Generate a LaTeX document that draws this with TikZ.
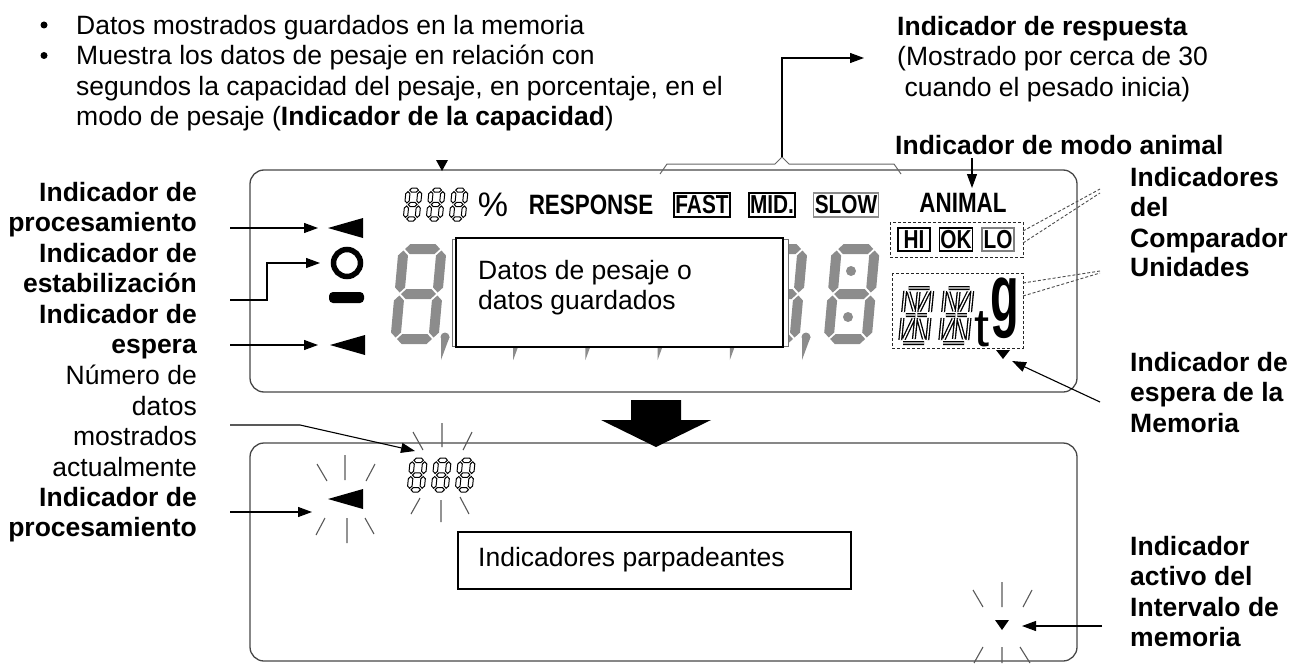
\documentclass[tikz,border=0pt]{standalone}
\usepackage{fontspec}
\usepackage{graphicx}
\setmainfont{Liberation Sans}
\newfontfamily\lcdfont{Liberation Sans}[FakeStretch=0.8]
\usetikzlibrary{arrows.meta}
\definecolor{lcdgray}{RGB}{140,140,140}
\definecolor{panelline}{RGB}{70,70,70}
\newcommand\tf{\fontsize{26.5bp}{30.5bp}\selectfont}
\def\segg{1.5}
\newcommand\hseg[4]{\path[#1] (#2+\segg,#4) -- (#2+\segg+\segh,#4-\segh) -- (#3-\segg-\segh,#4-\segh) -- (#3-\segg,#4) -- (#3-\segg-\segh,#4+\segh) -- (#2+\segg+\segh,#4+\segh) -- cycle;}
\newcommand\vseg[4]{\path[#1] (#2,#3+\segg) -- (#2+\segh,#3+\segg+\segh) -- (#2+\segh,#4-\segg-\segh) -- (#2,#4-\segg) -- (#2-\segh,#4-\segg-\segh) -- (#2-\segh,#3+\segg+\segh) -- cycle;}
% #1 style, #2 x, #3 y bottom, #4 W, #5 H, #6 thickness, #7 slant
\newcommand\eightdigit[7]{%
 \begin{scope}[shift={(#2,#3)},xslant=#7]
 \pgfmathsetmacro\dA{#6/2}\pgfmathsetmacro\dB{#4-#6/2}%
 \pgfmathsetmacro\dC{-#5+#6/2}\pgfmathsetmacro\dD{-#5/2}\pgfmathsetmacro\dE{-#6/2}%
 \pgfmathsetmacro\segh{#6/2}%
 \hseg{#1}{\dA}{\dB}{\dC}\hseg{#1}{\dA}{\dB}{\dD}\hseg{#1}{\dA}{\dB}{\dE}%
 \vseg{#1}{\dA}{\dC}{\dD}\vseg{#1}{\dB}{\dC}{\dD}\vseg{#1}{\dA}{\dD}{\dE}\vseg{#1}{\dB}{\dD}{\dE}%
 \end{scope}}
\newcommand\fourteen[2]{%
 \begin{scope}[shift={(#1,#2)},xslant=0.1]
 \foreach \w/\c in {4/black,1.4/white}{%
  \draw[line width=\w bp, draw=\c] (3,-55)--(24,-55) (3,-28)--(12.5,-28) (14.5,-28)--(24,-28) (3,0)--(24,0)
   (0,-52)--(0,-31) (0,-25)--(0,-3) (27,-52)--(27,-31) (27,-25)--(27,-3)
   (13.5,-51)--(13.5,-31) (13.5,-25)--(13.5,-4)
   (3.5,-51)--(11,-32) (23.5,-51)--(16,-32) (11,-24)--(3.5,-4) (16,-24)--(23.5,-4);}
 \end{scope}}
\begin{document}
\begin{tikzpicture}[x=1bp,y=-1bp,
  arr/.style={-{Triangle[length=14bp,width=10bp]}, line width=1.1bp},
  txt/.style={font=\tf, inner sep=0pt, align=left, anchor=north west},
  rtxt/.style={font=\tf, inner sep=0pt, align=right, anchor=north east},
  lcdtxt/.style={inner sep=0pt, font=\lcdfont\bfseries\fontsize{28bp}{30bp}\selectfont},
  lcdbox/.style={draw, inner sep=1.5bp, font=\lcdfont\bfseries\fontsize{26bp}{28bp}\selectfont, minimum height=24bp},
  smbox/.style={draw, inner sep=1bp, font=\lcdfont\bfseries\fontsize{26bp}{28bp}\selectfont, minimum height=23bp, minimum width=32bp},
  panel/.style={draw=panelline, line width=1.3bp, rounded corners=14bp},
  dbox/.style={draw=black!85, dash pattern=on 3bp off 2bp, line width=1bp},
  dsh/.style={draw=black!70, dash pattern=on 3bp off 2bp, line width=0.9bp},
  ray/.style={draw=black!65, line width=1.1bp},
  hollow/.style={fill=white, draw=black, line width=1bp},
  bul/.style={fill=black},
  ]
\path[use as bounding box] (0,0) rectangle (1306,664);

% ---------- panels
\draw[panel] (250,170) rectangle (1077,392);
\draw[panel] (250,443) rectangle (1077,661);

% ---------- top-left text
\node[bul, circle, inner sep=0pt, minimum size=7bp] (b1) at (44,25) {};
\node[bul, circle, inner sep=0pt, minimum size=7bp] (b2) at (44,55.5) {};
\node[txt] (capTxt) at (76,15) {Datos mostrados guardados en la memoria\\Muestra los datos de pesaje en relación con\\segundos la capacidad del pesaje, en porcentaje, en el\\modo de pesaje (\textbf{Indicador de la capacidad})};
\fill (436,160) -- (448,160) -- (442,171) -- cycle;

% ---------- response
\coordinate (braceTip) at (782,157);
\coordinate (respEnd) at (864,58);
\draw[draw=black!60, line width=1bp] (660,174) -- (667,164) -- (775,164) -- (braceTip) -- (789,164) -- (894,164) -- (901,174);
\draw[arr] (braceTip) |- (respEnd);
\node[txt] (resp) at (897,16) {\textbf{Indicador de respuesta}\\(Mostrado por cerca de 30\\\ cuando el pesado inicia)};

% ---------- animal
\node[txt, font=\tf\bfseries] (animLbl) at (895,135) {Indicador de modo animal};
\coordinate (anA) at (972,158);
\coordinate (anB) at (972,188);
\draw[arr] (anA) -- (anB);

% ---------- LCD top row
\eightdigit{hollow}{403}{221}{16}{33}{4.2}{0.1}
\eightdigit{hollow}{426}{221}{16}{33}{4.2}{0.1}
\eightdigit{hollow}{449}{221}{16}{33}{4.2}{0.1}
\node[inner sep=0pt, font=\fontsize{34bp}{36bp}\selectfont] (pct) at (493,205) {\%};
\node[lcdtxt] (response) at (591,205) {RESPONSE};
\node[lcdbox, line width=1.3bp] (fast) at (702,205) {FAST};
\node[lcdbox, line width=2bp] (mid) at (772,205) {MID.};
\node[lcdbox, draw=black!45, line width=1.3bp] (slow) at (846,205) {SLOW};
\node[lcdtxt] (animal) at (963,203) {ANIMAL};

% ---------- left indicators (top panel)
\node[rtxt, font=\tf\bfseries] (lProc) at (197,182) {Indicador de\\procesamiento};
\node[rtxt, font=\tf\bfseries] (lStab) at (197,243) {Indicador de\\estabilización};
\node[rtxt, font=\tf\bfseries] (lWait) at (197,304) {Indicador de\\espera};
\node[rtxt] (lNum) at (197,365) {Número de\\datos\\mostrados\\actualmente};
\node[rtxt, font=\tf\bfseries] (lProc2) at (197,487) {Indicador de\\procesamiento};

\fill (328,228) -- (363,218) -- (363,238) -- cycle;
\draw[line width=5.5bp] (347,263) circle (13.5);
\fill[rounded corners=4bp] (329,292) rectangle (364,303);
\fill (330,345) -- (365,335) -- (365,355) -- cycle;

\coordinate (pA) at (230,228); \coordinate (pB) at (318,228);
\draw[arr] (pA) -- (pB);
\coordinate (sA) at (230,300); \coordinate (sB) at (320,263);
\draw[arr] (sA) -- (267,300) -- (267,263) -- (sB);
\coordinate (wA) at (230,345); \coordinate (wB) at (318,345);
\draw[arr] (wA) -- (wB);

% ---------- big gray digits
\foreach \i in {0,...,6}{
  \pgfmathsetmacro\xx{390+72.2*\i}
  \eightdigit{fill=lcdgray}{\xx}{344}{48}{100}{10}{0.09}
}
\foreach \i in {0,...,5}{
  \pgfmathsetmacro\xx{390+72.2*\i}
  \fill[lcdgray] (\xx+55,337) circle (4.5);
  \fill[lcdgray] (\xx+51,337) -- (\xx+59.5,337) -- (\xx+51,360) -- cycle;
}
\fill[lcdgray] (823+28,271) circle (5);
\fill[lcdgray] (823+25,317) circle (5);

% data box
\draw[draw=black!55, fill=white, line width=1bp] (452,239) rectangle (788,346);
\draw[fill=white, line width=1.6bp] (456,238) rectangle (783,347);
\node[txt] (dataTxt) at (478,260) {Datos de pesaje o\\datos guardados};

% ---------- comparator & units
\draw[dbox] (890,222) rectangle (1023,257);
\node[smbox, line width=1.7bp] (hi) at (914,239.5) {HI};
\node[smbox, line width=1.4bp] (ok) at (956,239.5) {OK};
\node[smbox, draw=black!50, line width=1.4bp] (lo) at (998,239.5) {LO};
\draw[dbox] (892,273) rectangle (1023,348);
\fourteen{900}{343}
\fourteen{940}{343}
\node[inner sep=0pt, font=\fontsize{54bp}{56bp}\selectfont] (unitT) at (982,329) {t};
\node[inner sep=0pt] (unitG) at (1005,308) {\scalebox{0.58}[1]{\fontsize{81bp}{82bp}\selectfont\bfseries g}};
\fill (996,350) -- (1010,350) -- (1003,359) -- cycle;

\node[txt, font=\tf\bfseries] (compLbl) at (1130,167) {Indicadores\\del\\Comparador};
\node[txt, font=\tf\bfseries] (unitLbl) at (1130,257) {Unidades};
\draw[dsh] (1023,231) -- (1100,189);
\draw[dsh] (1023,243) -- (1100,193);
\draw[dsh] (1023,283) -- (1100,271);
\draw[dsh] (1023,296) -- (1100,273);

\node[txt, font=\tf\bfseries] (memLbl) at (1130,352) {Indicador de\\espera de la\\Memoria};
\coordinate (mA) at (1100,402); \coordinate (mB) at (1012,361);
\draw[arr] (mA) -- (mB);

% ---------- big arrow
\fill (631,400) -- (681,400) -- (681,420) -- (711,420) -- (656,447) -- (601,420) -- (631,420) -- cycle;

% ---------- bottom panel
\fill (328,499) -- (363,489) -- (363,509) -- cycle;
\draw[ray] (345,455)--(345,480) (317,464)--(327,481) (375,464)--(366,481)
           (347,518)--(347,543) (325,518)--(316,535) (365,518)--(374,534);
\coordinate (bpA) at (230,512); \coordinate (bpB) at (312,512);
\draw[arr] (bpA) -- (bpB);

\eightdigit{hollow}{407}{492}{17}{34}{4.5}{0.1}
\eightdigit{hollow}{431}{492}{17}{34}{4.5}{0.1}
\eightdigit{hollow}{455}{492}{17}{34}{4.5}{0.1}
\draw[ray] (442,423)--(442,447) (413,432)--(423,450) (472,432)--(463,450)
           (441,500)--(441,522) (420,498)--(411,514) (460,497)--(469,514);
\coordinate (nA) at (230,425); \coordinate (nB) at (415,451);
\draw[arr] (nA) -- (300,425) -- (nB);

\node[draw, line width=1.5bp, minimum width=393bp, minimum height=57bp, anchor=north west, inner sep=0pt] (blinkBox) at (457,531) {};
\node[txt, anchor=west] (blinkTxt) at (478,559.5) {Indicadores parpadeantes};

\fill (995,620) -- (1009,620) -- (1002,630) -- cycle;
\draw[ray] (1002,582)--(1002,607) (973,590)--(983,607) (1032,590)--(1023,607)
           (1002,647)--(1002,663) (983,647)--(974,663) (1020,647)--(1030,663);
\node[txt, font=\tf\bfseries] (intLbl) at (1130,536) {Indicador\\activo del\\Intervalo de\\memoria};
\coordinate (iA) at (1102,626); \coordinate (iB) at (1022,626);
\draw[arr] (iA) -- (iB);
\end{tikzpicture}
\end{document}
